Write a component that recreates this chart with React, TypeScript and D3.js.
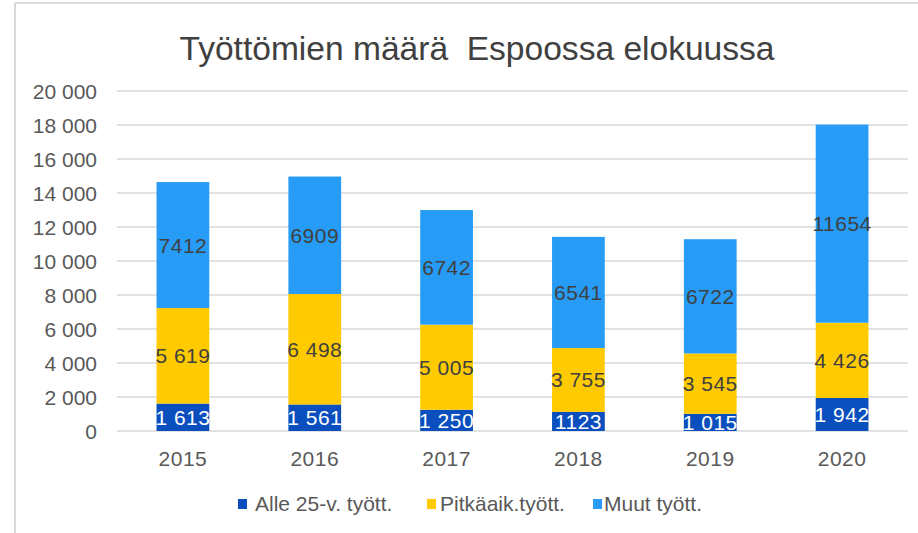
import React from "react";
import * as d3 from "d3";

const years = ["2015", "2016", "2017", "2018", "2019", "2020"];
const alle25 = [1613, 1561, 1250, 1123, 1015, 1942];
const pitkaaik = [5619, 6498, 5005, 3755, 3545, 4426];
const muut = [7412, 6909, 6742, 6541, 6722, 11654];
const alle25Labels = ["1 613", "1 561", "1 250", "1123", "1 015", "1 942"];
const pitkaaikLabels = ["5 619", "6 498", "5 005", "3 755", "3 545", "4 426"];
const muutLabels = ["7412", "6909", "6742", "6541", "6722", "11654"];
const yTicks = [0, 2000, 4000, 6000, 8000, 10000, 12000, 14000, 16000, 18000, 20000];
const yTickLabels = ["0", "2 000", "4 000", "6 000", "8 000", "10 000", "12 000", "14 000", "16 000", "18 000", "20 000"];
const seriesNames = ["Alle 25-v. tyött.", "Pitkäaik.tyött.", "Muut tyött."];
const title = "Työttömien määrä  Espoossa elokuussa";

const colors = ["#0a4fbd", "#ffcb00", "#269cf7"];
const labelColors = ["#ffffff", "#404040", "#404040"];
const FONT = "'Liberation Sans', Arial, sans-serif";

export default function App() {
  const W = 918, H = 533;
  const x = d3.scaleBand<string>().domain(years).range([117, 908]).paddingInner(0.6).paddingOuter(0.3);
  const y = d3.scaleLinear().domain([0, 20000]).range([431, 91]);

  const table = years.map((yr, i) => ({ year: yr, a: alle25[i], p: pitkaaik[i], m: muut[i] }));
  const stack = d3.stack<any>().keys(["a", "p", "m"])(table);
  const labelSets = [alle25Labels, pitkaaikLabels, muutLabels];

  const legendItems = [
    { mx: 238, tx: 255 },
    { mx: 427, tx: 440 },
    { mx: 593, tx: 604 },
  ];

  return (
    <div style={{ position: "absolute", left: 0, top: 0, width: W, height: H, background: "#fff" }}>
      <svg width={W} height={H} style={{ display: "block" }}>
        <rect x={0} y={0} width={W} height={H} fill="#fff" />
        <line x1={15} y1={3} x2={W} y2={3} stroke="#d9d9d9" strokeWidth={2} />
        <line x1={15} y1={3} x2={15} y2={H} stroke="#d9d9d9" strokeWidth={2} />
        <text x={477} y={60} textAnchor="middle" fontFamily={FONT} fontSize={33} fill="#404040"
          style={{ whiteSpace: "pre" }} textLength={595} lengthAdjust="spacingAndGlyphs">{title}</text>
        {yTicks.map((t, i) => (
          <g key={t}>
            <line x1={117} x2={908} y1={y(t)} y2={y(t)} stroke="#d9d9d9" strokeWidth={1.5} />
            <text x={97} y={y(t) + 7.5} textAnchor="end" fontFamily={FONT} fontSize={21} fill="#595959">{yTickLabels[i]}</text>
          </g>
        ))}
        {stack.map((s, si) => (
          <g key={si}>
            {s.map((d: any, i: number) => (
              <rect key={i} x={x(years[i])} width={x.bandwidth()} y={y(d[1])} height={y(d[0]) - y(d[1])} fill={colors[si]} />
            ))}
          </g>
        ))}
        {stack.map((s, si) => (
          <g key={"l" + si}>
            {s.map((d: any, i: number) => (
              <text key={i} x={(x(years[i]) as number) + x.bandwidth() / 2} y={y((d[0] + d[1]) / 2) + 7.5}
                textAnchor="middle" fontFamily={FONT} fontSize={21} letterSpacing={0.5} fill={labelColors[si]}>{labelSets[si][i]}</text>
            ))}
          </g>
        ))}
        {years.map((yr) => (
          <text key={yr} x={(x(yr) as number) + x.bandwidth() / 2} y={466} textAnchor="middle" fontFamily={FONT} fontSize={21} letterSpacing={0.5} fill="#595959">{yr}</text>
        ))}
        {seriesNames.map((n, i) => (
          <g key={n}>
            <rect x={legendItems[i].mx} y={499} width={9} height={10} fill={colors[i]} />
            <text x={legendItems[i].tx} y={511} fontFamily={FONT} fontSize={21} fill="#595959">{n}</text>
          </g>
        ))}
      </svg>
    </div>
  );
}
